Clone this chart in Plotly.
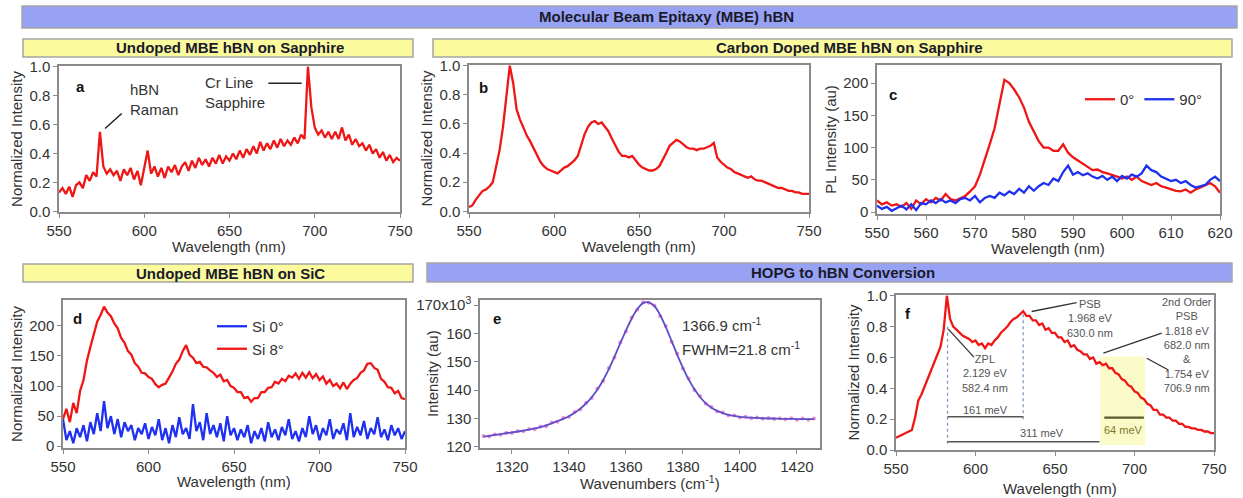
import plotly.graph_objects as go

W, H = 1243, 498

# ---------------- data ----------------
wl_2nm = list(range(550, 751, 2))

a_norm = [
    0.13, 0.16, 0.12, 0.17, 0.10, 0.18, 0.20, 0.16, 0.25, 0.21,
    0.27, 0.24, 0.55, 0.31, 0.26, 0.29, 0.25, 0.28, 0.21, 0.29,
    0.25, 0.30, 0.22, 0.28, 0.18, 0.31, 0.42, 0.26, 0.31, 0.24,
    0.30, 0.23, 0.31, 0.27, 0.32, 0.25, 0.31, 0.34, 0.28, 0.35,
    0.30, 0.37, 0.32, 0.36, 0.31, 0.37, 0.33, 0.39, 0.33, 0.38,
    0.35, 0.40, 0.36, 0.42, 0.37, 0.43, 0.39, 0.45, 0.40, 0.48,
    0.42, 0.47, 0.43, 0.49, 0.44, 0.50, 0.45, 0.49, 0.46, 0.51,
    0.47, 0.53, 0.50, 1.00, 0.72, 0.58, 0.53, 0.56, 0.51, 0.55,
    0.50, 0.55, 0.50, 0.58, 0.49, 0.53, 0.46, 0.50, 0.45, 0.47,
    0.42, 0.46, 0.40, 0.43, 0.37, 0.41, 0.35, 0.39, 0.34, 0.37,
    0.35]

b_norm = [
    0.03, 0.04, 0.08, 0.11, 0.14, 0.15, 0.17, 0.20, 0.30, 0.42,
    0.58, 0.80, 1.00, 0.88, 0.70, 0.63, 0.57, 0.52, 0.48, 0.43,
    0.38, 0.34, 0.31, 0.29, 0.28, 0.27, 0.26, 0.28, 0.30, 0.31,
    0.33, 0.35, 0.38, 0.45, 0.53, 0.58, 0.61, 0.62, 0.60, 0.61,
    0.58, 0.55, 0.50, 0.45, 0.41, 0.38, 0.38, 0.37, 0.38, 0.35,
    0.32, 0.30, 0.29, 0.28, 0.28, 0.29, 0.31, 0.35, 0.40, 0.45,
    0.47, 0.49, 0.48, 0.46, 0.44, 0.43, 0.43, 0.42, 0.43, 0.43,
    0.44, 0.45, 0.47, 0.37, 0.34, 0.32, 0.30, 0.29, 0.27, 0.26,
    0.25, 0.24, 0.23, 0.24, 0.22, 0.21, 0.21, 0.20, 0.19, 0.18,
    0.17, 0.16, 0.16, 0.15, 0.14, 0.14, 0.13, 0.13, 0.12, 0.12,
    0.12]

wl_c = list(range(550, 621))
c_0deg = [
    18, 12, 15, 10, 12, 8, 14, 5, 18, 12,
    20, 15, 22, 18, 28, 20, 18, 22, 25, 32,
    40, 58, 80, 105, 130, 170, 205, 200, 190, 178,
    162, 140, 125, 110, 100, 100, 95, 95, 105, 92,
    85, 80, 75, 70, 65, 66, 62, 60, 58, 55,
    52, 55, 50, 55, 48, 45, 42, 45, 40, 38,
    35, 33, 32, 35, 30, 35, 38, 42, 45, 40,
    30]
c_90deg = [
    10, 5, 8, 2, 6, 10, 4, 12, 3, 14,
    12, 18, 14, 20, 15, 18, 14, 20, 22, 18,
    25, 15, 22, 25, 22, 30, 26, 32, 28, 36,
    30, 40, 33, 40, 45, 42, 52, 48, 62, 72,
    58, 62, 57, 60, 55, 52, 56, 50, 55, 48,
    56, 52, 58, 55, 60, 72, 65, 62, 55, 52,
    48, 50, 45, 48, 42, 38, 40, 42, 50, 55,
    48]

d_si0 = [
    45, 10, 25, 5, 30, 15, 35, 8, 40, 20,
    55, 25, 75, 30, 50, 20, 45, 15, 40, 25,
    35, 10, 30, 20, 38, 12, 32, 18, 45, 10,
    30, 5, 35, 15, 48, 20, 30, 12, 70, 25,
    40, 10, 55, 20, 35, 15, 38, 8, 50, 18,
    30, 10, 28, 15, 35, 5, 25, 12, 30, 8,
    40, 15, 28, 10, 32, 18, 45, 12, 25, 8,
    30, 15, 50, 20, 35, 10, 30, 18, 45, 12,
    28, 20, 38, 10, 55, 15, 32, 18, 42, 12,
    30, 20, 48, 15, 28, 10, 35, 18, 30, 12,
    25]
d_si8 = [
    45, 62, 40, 72, 55, 92, 110, 142, 165, 188,
    207, 218, 232, 222, 216, 204, 196, 180, 172, 158,
    152, 138, 132, 122, 121, 115, 112, 103, 98, 102,
    104, 114, 124, 137, 144, 158, 168, 152, 147, 138,
    140, 132, 131, 126, 122, 115, 119, 108, 110, 100,
    97, 90, 90, 80, 82, 74, 80, 80, 90, 90,
    97, 98, 107, 104, 112, 108, 117, 114, 121, 112,
    122, 114, 123, 113, 120, 110, 116, 104, 110, 100,
    104, 96, 106, 95, 104, 110, 113, 122, 126, 137,
    138, 130, 127, 112, 107, 98, 97, 88, 92, 80,
    78]

wn_e = list(range(1310, 1427, 2))
e_fit = [
    123.6, 123.9, 124.2, 124.5, 124.8, 125.1, 125.4, 125.7, 126.1, 126.5,
    127.0, 127.6, 128.3, 129.1, 129.9, 130.8, 132.0, 133.5, 135.3, 137.5,
    140.2, 143.5, 147.4, 151.8, 156.5, 161.0, 165.2, 168.6, 170.7, 171.0,
    169.6, 166.5, 162.2, 157.4, 152.5, 147.9, 143.8, 140.4, 137.6, 135.4,
    133.8, 132.7, 131.9, 131.3, 130.9, 130.6, 130.4, 130.3, 130.2, 130.1,
    130.0, 130.0, 129.9, 129.9, 129.9, 129.8, 129.8, 129.8, 129.8]
e_data = [
    123.8, 123.7, 124.4, 124.3, 125.0, 124.9, 125.6, 125.5, 126.3, 126.2,
    127.2, 127.3, 128.6, 128.9, 130.2, 130.5, 132.3, 133.2, 135.6, 137.2,
    140.6, 143.2, 147.8, 151.5, 156.9, 160.7, 165.6, 168.4, 171.0, 170.8,
    169.9, 166.2, 162.6, 157.1, 152.8, 147.6, 144.1, 140.1, 137.9, 135.2,
    134.1, 132.5, 132.1, 131.1, 131.1, 130.4, 130.6, 130.1, 130.4, 129.9,
    130.2, 129.8, 130.1, 129.7, 130.1, 129.6, 130.0, 129.6, 130.0]

f_norm = [
    0.08, 0.09, 0.10, 0.11, 0.12, 0.13, 0.21, 0.32, 0.36, 0.41,
    0.46, 0.51, 0.56, 0.62, 0.67, 0.78, 1.00, 0.85, 0.80, 0.78,
    0.76, 0.74, 0.73, 0.72, 0.70, 0.71, 0.68, 0.69, 0.66, 0.69,
    0.68, 0.71, 0.73, 0.76, 0.78, 0.80, 0.83, 0.85, 0.86, 0.88,
    0.90, 0.87, 0.87, 0.84, 0.84, 0.81, 0.82, 0.78, 0.79, 0.76,
    0.76, 0.73, 0.73, 0.70, 0.71, 0.67, 0.68, 0.65, 0.64, 0.62,
    0.62, 0.59, 0.60, 0.56, 0.57, 0.55, 0.56, 0.53, 0.53, 0.50,
    0.49, 0.46, 0.45, 0.42, 0.41, 0.38, 0.37, 0.34, 0.33, 0.30,
    0.29, 0.26, 0.26, 0.23, 0.23, 0.21, 0.21, 0.19, 0.19, 0.17,
    0.17, 0.15, 0.15, 0.14, 0.14, 0.13, 0.13, 0.12, 0.12, 0.11,
    0.11]

# annotation values (panel f)
zpl_nm, psb_nm, psb2_nm, psb2b_nm = 582.4, 630.0, 680.0, 706.9

# ---------------- styling ----------------
RED = "#f01616"
BLUE = "#1e30f0"
FONT = "Liberation Sans, Arial, sans-serif"
TXT = "#333333"
FRAME = "#8a8a8a"
LW = 2.3


def xp(px):
    return px / W


def yp(py):
    return 1 - py / H


fig = go.Figure()

fig.add_trace(go.Scatter(x=wl_2nm, y=a_norm, mode="lines", line=dict(color=RED, width=LW),
                         xaxis="x", yaxis="y", showlegend=False))
fig.add_trace(go.Scatter(x=wl_2nm, y=b_norm, mode="lines", line=dict(color=RED, width=LW),
                         xaxis="x2", yaxis="y2", showlegend=False))
fig.add_trace(go.Scatter(x=wl_c, y=c_0deg, mode="lines", line=dict(color=RED, width=LW),
                         name="0°", xaxis="x3", yaxis="y3", legend="legend"))
fig.add_trace(go.Scatter(x=wl_c, y=c_90deg, mode="lines", line=dict(color=BLUE, width=LW),
                         name="90°", xaxis="x3", yaxis="y3", legend="legend"))
fig.add_trace(go.Scatter(x=wl_2nm, y=d_si0, mode="lines", line=dict(color=BLUE, width=LW),
                         name="Si 0°", xaxis="x4", yaxis="y4", legend="legend2"))
fig.add_trace(go.Scatter(x=wl_2nm, y=d_si8, mode="lines", line=dict(color=RED, width=LW),
                         name="Si 8°", xaxis="x4", yaxis="y4", legend="legend2"))
fig.add_trace(go.Scatter(x=wn_e, y=e_data, mode="markers",
                         marker=dict(color="#f070c8", size=4, opacity=0.8),
                         xaxis="x5", yaxis="y5", showlegend=False))
fig.add_trace(go.Scatter(x=wn_e, y=e_fit, mode="lines", line=dict(color="#5a50c8", width=1.8, shape="spline"),
                         xaxis="x5", yaxis="y5", showlegend=False))
fig.add_trace(go.Scatter(x=wl_2nm, y=f_norm, mode="lines", line=dict(color=RED, width=LW),
                         xaxis="x6", yaxis="y6", showlegend=False))


def axis(dom, rng, anchor, **kw):
    d = dict(domain=dom, range=rng, anchor=anchor, showline=True, linecolor=FRAME, linewidth=1.5,
             mirror=True, ticks="outside", ticklen=4, tickcolor=FRAME, tickwidth=1.2,
             tickfont=dict(size=15, color=TXT, family=FONT), showgrid=False, zeroline=False,
             automargin=False)
    d.update(kw)
    return d


def ttl(text, standoff):
    return dict(text=text, font=dict(size=15, color=TXT, family=FONT), standoff=standoff)


boxes = {
    "a": (59, 400, 66, 212),
    "b": (469, 809, 65, 212),
    "c": (877, 1220, 65, 214),
    "d": (63, 405, 300, 448),
    "e": (480, 820, 300, 448),
    "f": (896, 1214, 295, 450),
}


def dx(k):
    b = boxes[k]
    return [xp(b[0]), xp(b[1])]


def dy(k):
    b = boxes[k]
    return [yp(b[3]), yp(b[2])]


wl_ticks = [550, 600, 650, 700, 750]
norm_ticks = [0, 0.2, 0.4, 0.6, 0.8, 1.0]

fig.update_layout(
    xaxis=axis(dx("a"), [550, 750], "y", tickvals=wl_ticks),
    yaxis=axis(dy("a"), [-0.005, 1.005], "x", tickvals=norm_ticks, tickformat=".1f",
               title=ttl("Normalized Intensity", 3)),
    xaxis2=axis(dx("b"), [550, 750], "y2", tickvals=wl_ticks),
    yaxis2=axis(dy("b"), [-0.005, 1.005], "x2", tickvals=norm_ticks, tickformat=".1f",
                title=ttl("Normalized Intensity", 3)),
    xaxis3=axis(dx("c"), [550, 620], "y3", tickvals=list(range(550, 621, 10))),
    yaxis3=axis(dy("c"), [-3, 228], "x3", tickvals=[0, 50, 100, 150, 200],
                title=ttl("PL Intensity (au)", 3)),
    xaxis4=axis(dx("d"), [550, 750], "y4", tickvals=wl_ticks),
    yaxis4=axis(dy("d"), [-3, 243], "x4", tickvals=[0, 50, 100, 150, 200],
                title=ttl("Normalized Intensity", 3)),
    xaxis5=axis(dx("e"), [1308.8, 1428.1], "y5", tickvals=[1320, 1340, 1360, 1380, 1400, 1420]),
    yaxis5=axis(dy("e"), [119.6, 171.8], "x5", tickvals=[120, 130, 140, 150, 160, 170],
                ticktext=["120", "130", "140", "150", "160", "170x10<sup>3</sup>"]),
    xaxis6=axis(dx("f"), [550, 750], "y6", tickvals=wl_ticks),
    yaxis6=axis(dy("f"), [0, 1.005], "x6", tickvals=norm_ticks, tickformat=".1f",
                title=ttl("Normalized Intensity", 3)),
)

shapes = []
annots = []

axfont = dict(size=15, color=TXT, family=FONT)
# x-axis titles, placed where the original has them
for text, (px, py) in [("Wavelength (nm)", (229, 247)), ("Wavelength (nm)", (639, 247)),
                       ("Wavelength (nm)", (1048, 248)), ("Wavelength (nm)", (234, 481)),
                       ("Wavenumbers (cm<sup>-1</sup>)", (650, 482)), ("Wavelength (nm)", (1060, 488))]:
    annots.append(dict(xref="paper", yref="paper", x=xp(px), y=yp(py), text=text, showarrow=False,
                       xanchor="center", yanchor="middle", font=axfont))

# y title of panel e (placed beside the short tick labels, as in the original)
annots.append(dict(xref="paper", yref="paper", x=xp(432), y=yp(374), text="Intensity (au)", textangle=-90,
                   showarrow=False, xanchor="center", yanchor="middle", font=axfont))

# header bars
headers = [
    (22, 1237, 6, 28, "#98a2f4", "Molecular Beam Epitaxy (MBE) hBN", 667),
    (23, 413, 39, 57, "#fbfb9e", "Undoped MBE hBN on Sapphire", 230),
    (433, 1232, 39, 57, "#fbfb9e", "Carbon Doped MBE hBN on Sapphire", 850),
    (23, 413, 264, 282, "#fbfb9e", "Undoped MBE hBN on SiC", 230),
    (427, 1232, 263, 282, "#98a2f4", "HOPG to hBN Conversion", 843),
]
for x0, x1, y0, y1, col, text, cx in headers:
    shapes.append(dict(type="rect", xref="paper", yref="paper", x0=xp(x0), x1=xp(x1), y0=yp(y1), y1=yp(y0),
                       fillcolor=col, line=dict(color="#a5a5a5", width=1.5), layer="below"))
    annots.append(dict(xref="paper", yref="paper", x=xp(cx), y=yp((y0 + y1) / 2), text="<b>%s</b>" % text,
                       showarrow=False, font=dict(size=15, color="#1a1a2a", family=FONT),
                       xanchor="center", yanchor="middle"))

# panel letters
for letter, (px, py) in {"a": (80, 87), "b": (483, 88), "c": (893, 94), "d": (77, 318),
                         "e": (497, 318), "f": (908, 313)}.items():
    annots.append(dict(xref="paper", yref="paper", x=xp(px), y=yp(py), text="<b>%s</b>" % letter,
                       showarrow=False, font=dict(size=15, color="#111", family=FONT),
                       xanchor="center", yanchor="middle"))

# panel a annotations
annots.append(dict(xref="x", yref="y", x=590.6, y=0.776, text="hBN<br>Raman", align="left",
                   showarrow=False, xanchor="left", yanchor="middle", font=axfont))
annots.append(dict(xref="x", yref="y", x=634.5, y=0.82, text="Cr Line<br>Sapphire", align="left",
                   showarrow=False, xanchor="left", yanchor="middle", font=axfont))
shapes.append(dict(type="line", xref="x", yref="y", x0=577, y0=0.573, x1=586.8, y1=0.676,
                   line=dict(color="#222", width=1.5)))
shapes.append(dict(type="line", xref="x", yref="y", x0=672.8, y0=0.886, x1=692.3, y1=0.886,
                   line=dict(color="#222", width=1.5)))

# panel e annotations
annots.append(dict(xref="x5", yref="y5", x=1379, y=163, text="1366.9 cm<sup>-1</sup>", showarrow=False,
                   xanchor="left", yanchor="middle", font=axfont))
annots.append(dict(xref="x5", yref="y5", x=1379, y=154.7, text="FWHM=21.8 cm<sup>-1</sup>", showarrow=False,
                   xanchor="left", yanchor="middle", font=axfont))

# panel f annotations
shapes.append(dict(type="rect", xref="x6", yref="y6", x0=psb2_nm - 1.7, x1=psb2b_nm - 0.3, y0=0.032, y1=0.606,
                   fillcolor="#fafac0", opacity=0.85, line=dict(width=0), layer="below"))
shapes.append(dict(type="line", xref="x6", yref="y6", x0=zpl_nm, x1=zpl_nm, y0=0.04, y1=0.8,
                   line=dict(color="#7f9cbf", width=1.3, dash="dot")))
shapes.append(dict(type="line", xref="x6", yref="y6", x0=psb_nm, x1=psb_nm, y0=0.2, y1=0.88,
                   line=dict(color="#7f9cbf", width=1.3, dash="dot")))
shapes.append(dict(type="line", xref="x6", yref="y6", x0=zpl_nm, x1=psb_nm, y0=0.216, y1=0.216,
                   line=dict(color="#555", width=1.5)))
shapes.append(dict(type="line", xref="x6", yref="y6", x0=zpl_nm, x1=psb2_nm - 2, y0=0.054, y1=0.054,
                   line=dict(color="#555", width=1.5)))
shapes.append(dict(type="line", xref="x6", yref="y6", x0=psb2_nm + 1, x1=psb2b_nm - 1, y0=0.21, y1=0.21,
                   line=dict(color="#5a5a30", width=2.2)))
for x0, y0, x1, y1 in [(582.9, 0.784, 599, 0.602), (635.3, 0.898, 663.6, 0.956),
                       (680.4, 0.628, 717.1, 0.758), (707.7, 0.595, 721.3, 0.519)]:
    shapes.append(dict(type="line", xref="x6", yref="y6", x0=x0, y0=y0, x1=x1, y1=y1,
                       line=dict(color="#333", width=1.3)))

small = dict(size=11, color="#555", family=FONT)
annots.append(dict(xref="x6", yref="y6", x=606, y=0.495, text="ZPL<br>2.129 eV<br>582.4 nm",
                   showarrow=False, xanchor="center", yanchor="middle", font=small))
annots.append(dict(xref="x6", yref="y6", x=672, y=0.85, text="PSB<br>1.968 eV<br>630.0 nm",
                   showarrow=False, xanchor="center", yanchor="middle", font=small))
annots.append(dict(xref="x6", yref="y6", x=733, y=0.68,
                   text="2nd Order<br>PSB<br>1.818 eV<br>682.0 nm<br>&<br>1.754 eV<br>706.9 nm",
                   showarrow=False, xanchor="center", yanchor="middle", font=small))
annots.append(dict(xref="x6", yref="y6", x=606, y=0.26, text="161 meV",
                   showarrow=False, xanchor="center", yanchor="middle", font=small))
annots.append(dict(xref="x6", yref="y6", x=641.6, y=0.108, text="311 meV",
                   showarrow=False, xanchor="center", yanchor="middle", font=small))
annots.append(dict(xref="x6", yref="y6", x=692.8, y=0.13, text="64 meV",
                   showarrow=False, xanchor="center", yanchor="middle",
                   font=dict(size=11, color="#7a7a2a", family=FONT)))

fig.update_layout(
    width=W, height=H, margin=dict(l=0, r=0, t=0, b=0),
    paper_bgcolor="white", plot_bgcolor="white",
    font=dict(family=FONT, color=TXT),
    shapes=shapes, annotations=annots,
    legend=dict(x=xp(1080), y=yp(83), xanchor="left", yanchor="top", orientation="h",
                bgcolor="rgba(0,0,0,0)", font=dict(size=15, color=TXT, family=FONT),
                itemwidth=30, tracegroupgap=0),
    legend2=dict(x=xp(212), y=yp(310), xanchor="left", yanchor="top", orientation="v",
                 bgcolor="rgba(0,0,0,0)", font=dict(size=15, color=TXT, family=FONT),
                 itemwidth=30, tracegroupgap=0),
)

fig.write_html("out.html", config={"displayModeBar": False},
               post_script="document.body.style.margin='0px';document.body.style.padding='0px';"
                           "document.body.style.overflow='hidden';")
